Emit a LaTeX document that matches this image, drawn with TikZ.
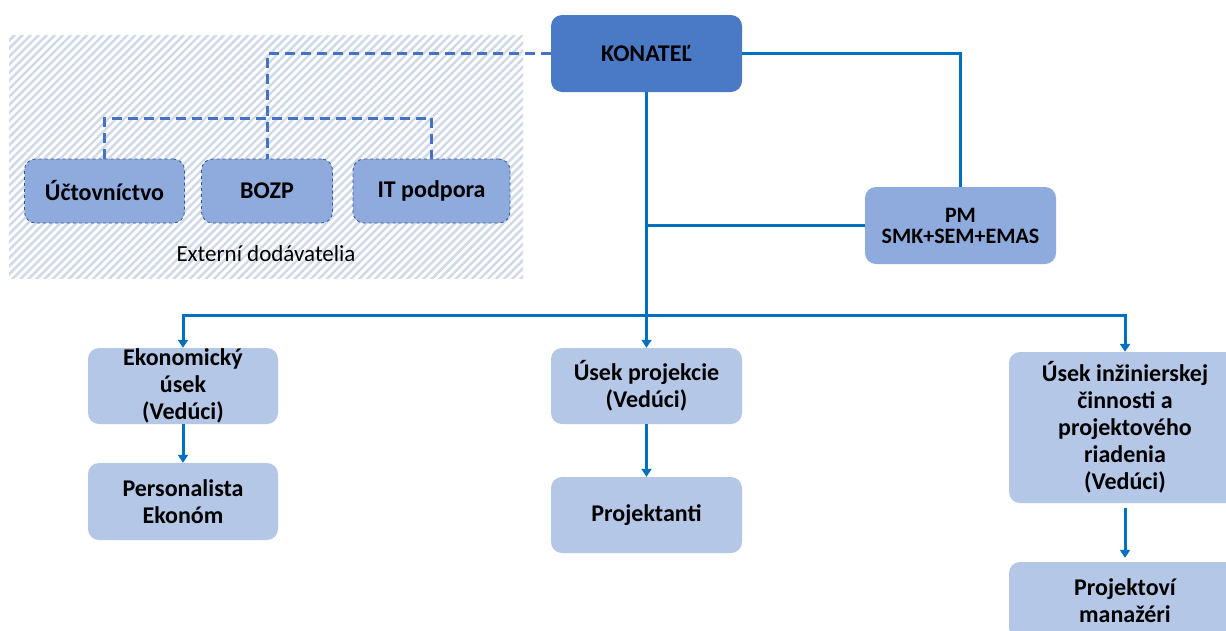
\documentclass[tikz,border=0pt]{standalone}
\usepackage{fontspec}
\setmainfont{Carlito}
\usetikzlibrary{arrows.meta,patterns.meta}
\definecolor{konc}{HTML}{4A7AC6}
\definecolor{midc}{HTML}{8FAADC}
\definecolor{lightc}{HTML}{B4C7E7}
\definecolor{linec}{HTML}{0070C0}
\definecolor{dashc}{HTML}{4472C4}
\definecolor{bordc}{HTML}{2F5597}
\definecolor{hatchc}{HTML}{CFD8E8}
\tikzset{
  basebox/.style={rectangle, rounded corners=11pt, align=center, inner sep=0pt,
    font=\bfseries\fontsize{24}{27}\selectfont},
  topbox/.style={basebox, fill=konc, minimum width=191pt, minimum height=77pt},
  midbox/.style={basebox, fill=midc},
  extbox/.style={basebox, fill=midc, draw=bordc, dashed, line width=0.8pt, minimum height=64pt},
  lowbox/.style={basebox, fill=lightc},
  conn/.style={draw=linec, line width=3pt},
  arr/.style={conn, -{Triangle[width=10pt,length=8pt]}},
  dconn/.style={draw=dashc, line width=3pt, dash pattern=on 10pt off 6pt},
}
\begin{document}
\begin{tikzpicture}[x=1pt,y=-1pt]
\useasboundingbox (0,0) rectangle (1226,630);
\fill[white] (0,0) rectangle (1226,630);
% hatched area of external suppliers
\fill[pattern={Lines[angle=45,distance=5.7pt,line width=2.4pt]}, pattern color=hatchc]
  (9,35) rectangle (523,278);

% nodes
\node[topbox] (kon) at (646.5,53.5) {KONATEĽ};
\node[midbox, minimum width=191pt, minimum height=77pt,
  font=\bfseries\fontsize{22}{21}\selectfont] (pm) at (960.5,225.5) {PM\\SMK+SEM+EMAS};
\node[extbox, minimum width=160pt] (ucto) at (104.5,191) {Účtovníctvo};
\node[extbox, minimum width=131pt] (bozp) at (267,191) {BOZP};
\node[extbox, minimum width=157pt] (itp) at (431.5,191) {IT podpora};
\node[font=\fontsize{23}{27}\selectfont] (ext) at (266,254) {Externí dodávatelia};

\node[lowbox, minimum width=190pt, minimum height=76pt] (ekon) at (183,386) {Ekonomický\\úsek\\(Vedúci)};
\node[lowbox, minimum width=190pt, minimum height=77pt] (pers) at (183,501.5) {Personalista\\Ekonóm};
\node[lowbox, minimum width=191pt, minimum height=76pt] (uproj) at (646.5,386) {Úsek projekcie\\(Vedúci)};
\node[lowbox, minimum width=191pt, minimum height=76pt] (projt) at (646.5,515) {Projektanti};
\node[lowbox, minimum width=232pt, minimum height=151pt] (inz) at (1125,427.5) {Úsek inžinierskej\\činnosti a\\projektového\\riadenia\\(Vedúci)};
\node[lowbox, minimum width=232pt, minimum height=77pt] (projm) at (1125,600.5) {Projektoví\\manažéri};

% solid connectors
\draw[conn] (kon.east) -| (pm.north);
\draw[arr] (kon.south) -- (uproj.north);
\coordinate (jpm) at (kon.south |- pm.west);
\draw[conn] (jpm) -- (pm.west);
\coordinate (bus) at (646.5,315);
\draw[arr] (bus) -| (ekon.north);
\draw[arr] (bus) -| (inz.north);
\draw[arr] (ekon.south) -- (pers.north);
\draw[arr] (uproj.south) -- (projt.north);
\draw[arr] ([yshift=-5pt]inz.south) -- ([yshift=4pt]projm.north);

% dashed connectors to external suppliers
\draw[dconn] (kon.west) -| (bozp.north);
\coordinate (dl) at (ucto.north |- 0,118);
\draw[dconn] (ucto.north) -- (dl) -| (itp.north);
\end{tikzpicture}
\end{document}
